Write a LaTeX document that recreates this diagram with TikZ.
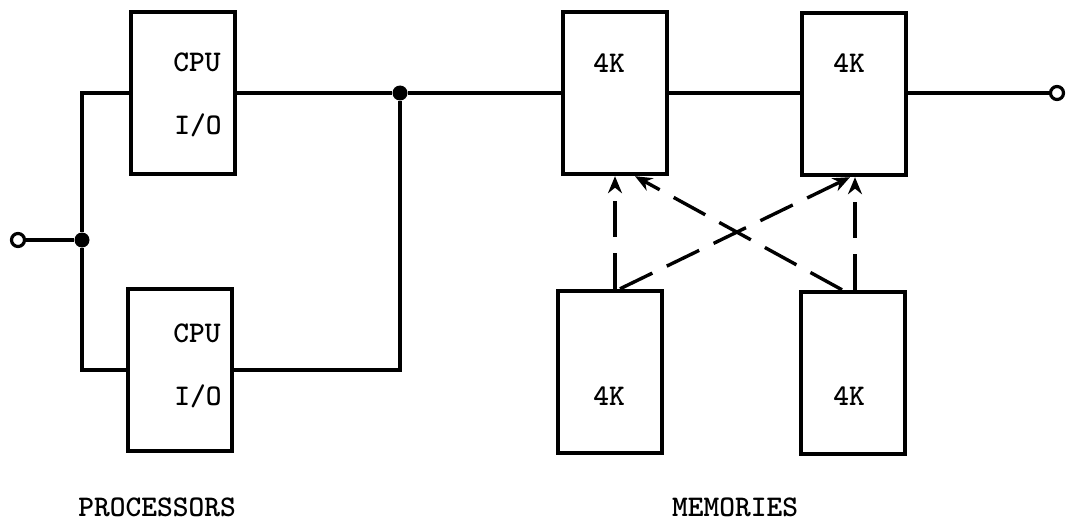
\documentclass[tikz,border=0pt]{standalone}
\usepackage{fontspec}
\usepackage{tikz}
\usetikzlibrary{arrows.meta, positioning}

\begin{document}
\begin{tikzpicture}[x=1pt, y=-1pt,
                unit/.style={rectangle, draw, line width=4.4pt, inner sep=0pt, minimum width=104pt, minimum height=162pt},
                lbl/.style={inner sep=0pt, anchor=base, font=\ttfamily\bfseries\fontsize{30}{34}\selectfont},
                wire/.style={line width=3.2pt},
                dot/.style={circle, fill, inner sep=0pt, minimum size=15pt},
                port/.style={circle, draw, fill=white, line width=3.2pt, inner sep=0pt, minimum size=13pt},
                dasharrow/.style={line width=3.4pt, dash pattern=on 36pt off 16pt, -{Stealth[length=17pt, width=14pt]}}
            ]
                \useasboundingbox (0,0) rectangle (1068,524);

                % Nodes: processors
                \node[unit] (p1) at (183,93) {};
                \node[unit] (p2) at (180,370) {};
                \node[lbl] (cpu1) at (197,72) {CPU};
                \node[lbl] (io1) at (198,135) {I/O};
                \node[lbl] (cpu2) at (197,342) {CPU};
                \node[lbl] (io2) at (198,405) {I/O};

                % Nodes: memories
                \node[unit] (m1) at (615,93) {};
                \node[unit] (m2) at (854,94) {};
                \node[unit] (m3) at (610,372) {};
                \node[unit] (m4) at (853,373) {};
                \node[lbl] (k1) at (609,73) {4K};
                \node[lbl] (k2) at (849,73) {4K};
                \node[lbl] (k3) at (609,405) {4K};
                \node[lbl] (k4) at (849,405) {4K};

                % Nodes: junctions and ports
                \node[port] (in) at (18,240) {};
                \node[dot] (j1) at (82,240) {};
                \node[dot] (j2) at (400,93) {};
                \node[port] (out) at (1057,93) {};

                % Paths: processor side
                \draw[wire] (in) -- (j1);
                \draw[wire] (p1.west) -| (j1) |- (p2.west);
                \draw[wire] (p1.east) -- (j2);
                \draw[wire] (j2) |- (p2.east);

                % Paths: memory bus
                \draw[wire] (j2) -- (m1.west);
                \draw[wire] (m1.east) -- (m1.east -| m2.west);
                \draw[wire] (m2.east |- out) -- (out);

                % Paths: memory exchange
                \draw[dasharrow] ([xshift=5pt]m3.north) -- ([xshift=5pt]m3.north |- m1.south);
                \draw[dasharrow] ([xshift=10pt]m3.north) -- ([xshift=-4pt]m2.south);
                \draw[dasharrow] ([xshift=2pt]m4.north) -- ([xshift=2pt]m4.north |- m2.south);
                \draw[dasharrow] ([xshift=-11pt]m4.north) -- ([xshift=20pt]m1.south);

                % Group labels
                \node[lbl] (proc) at (157,516) {PROCESSORS};
                \node[lbl] (mem) at (735,516) {MEMORIES};
            \end{tikzpicture}
\end{document}
